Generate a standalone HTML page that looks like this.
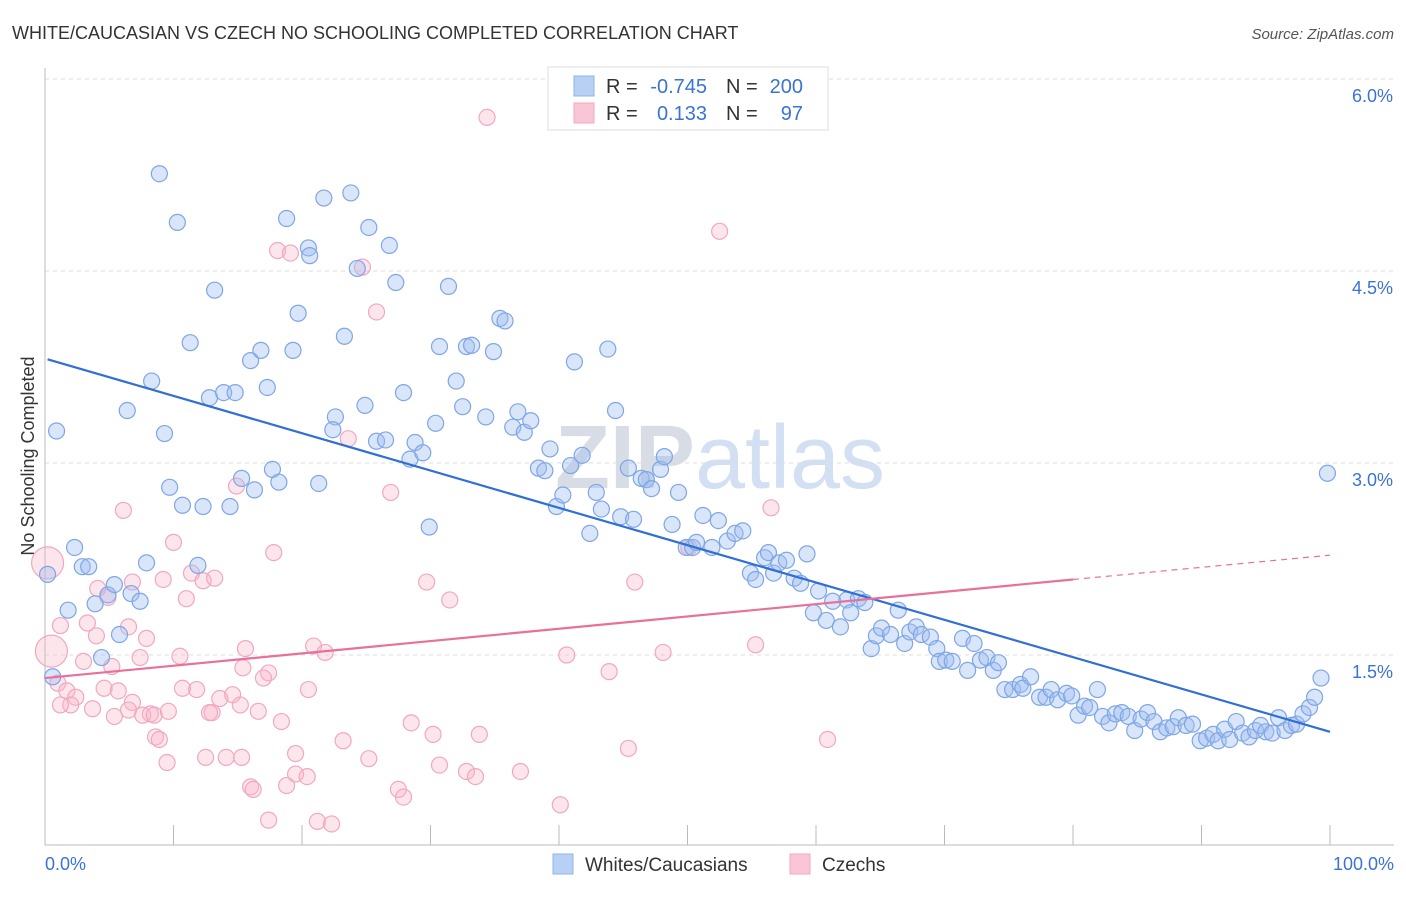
<!DOCTYPE html>
<html><head><meta charset="utf-8"><style>
body{margin:0;background:#fff;font-family:"Liberation Sans",sans-serif}
svg text{font-family:"Liberation Sans",sans-serif}
</style></head><body>
<svg id="chart" width="1406" height="892" xmlns="http://www.w3.org/2000/svg">
<text x="12" y="39" font-size="18" fill="#333">WHITE/CAUCASIAN VS CZECH NO SCHOOLING COMPLETED CORRELATION CHART</text>
<text x="1394" y="39" font-size="15" fill="#555" text-anchor="end" font-style="italic">Source: ZipAtlas.com</text>
<text x="720" y="488" font-size="90" fill="#dfe7f2" text-anchor="middle" font-family="Liberation Serif"><tspan font-weight="bold" fill="#d8dde5">ZIP</tspan><tspan fill="#d3e0f3">atlas</tspan></text>
<text transform="translate(34,456) rotate(-90)" font-size="18" fill="#333" text-anchor="middle">No Schooling Completed</text>
<g id="grid"></g><g id="axes"></g><g id="marks"></g><g id="trends"></g>
<g>
<rect x="548" y="67" width="280" height="63" fill="#fff" stroke="#ddd"/>
<rect x="574" y="76" width="20" height="20" fill="#b9d0f5" stroke="#8fb3ea"/>
<rect x="574" y="103" width="20" height="20" fill="#f9c6d5" stroke="#f0a8c0"/>
<text x="606" y="93" font-size="20" fill="#333">R =</text>
<text x="707" y="93" font-size="20" fill="#3a73d6" text-anchor="end">-0.745</text>
<text x="726" y="93" font-size="20" fill="#333">N =</text>
<text x="803" y="93" font-size="20" fill="#3a73d6" text-anchor="end">200</text>
<text x="606" y="120" font-size="20" fill="#333">R =</text>
<text x="707" y="120" font-size="20" fill="#3a73d6" text-anchor="end">0.133</text>
<text x="726" y="120" font-size="20" fill="#333">N =</text>
<text x="803" y="120" font-size="20" fill="#3a73d6" text-anchor="end">97</text>
</g>
<g>
<rect x="553" y="854" width="20" height="20" fill="#b9d0f5" stroke="#8fb3ea"/>
<text x="585" y="871" font-size="19" fill="#333">Whites/Caucasians</text>
<rect x="790" y="854" width="20" height="20" fill="#f9c6d5" stroke="#f0a8c0"/>
<text x="822" y="871" font-size="19" fill="#333">Czechs</text>
</g>
</svg>
<script>
const blueX=[8.9,10.3,13.2,11.3,8.3,6.4,9.3,0.9,12.8,13.9,14.8,16.0,16.8,17.3,19.3,19.7,18.8,20.5,20.6,21.7,23.8,25.2,24.3,26.8,27.3,31.4,23.3,22.6,22.4,24.9,25.8,26.5,27.9,28.8,28.4,29.4,30.4,30.7,32.0,32.5,32.8,33.2,34.3,34.9,35.4,35.8,36.4,36.8,37.3,37.8,39.3,38.4,38.9,39.8,40.3,40.9,41.2,41.8,42.4,42.9,43.3,43.8,44.4,44.8,45.4,45.8,46.4,46.8,47.2,47.9,48.2,48.8,49.3,49.9,50.4,50.7,51.2,51.9,52.4,53.1,53.7,54.3,54.9,55.3,56.0,56.3,56.7,57.1,57.7,58.3,58.8,59.3,59.8,60.2,60.8,61.3,61.9,62.4,62.7,63.3,63.8,64.3,64.7,65.1,65.8,66.4,66.9,67.3,67.8,68.2,68.9,69.4,69.6,70.1,70.6,71.4,71.8,72.3,72.8,73.3,73.8,74.2,74.7,75.3,75.9,76.1,76.7,77.4,77.9,78.3,78.8,79.5,79.9,80.4,80.9,81.3,81.9,82.3,82.8,83.3,83.8,84.3,84.8,85.3,85.8,86.3,86.8,87.3,87.8,88.2,88.8,89.3,89.9,90.4,90.9,91.3,91.8,92.2,92.7,93.2,93.7,94.2,94.6,95.0,95.5,96.0,96.5,97.0,97.4,97.9,98.4,98.8,99.3,99.8,0.2,0.6,1.8,2.3,2.9,3.4,3.9,4.4,4.9,5.4,5.8,6.7,7.4,7.9,9.7,10.7,11.9,12.3,14.4,15.3,16.3,17.7,18.2,21.3,29.9];
const blueY=[5.26,4.88,4.35,3.94,3.64,3.41,3.23,3.25,3.51,3.55,3.55,3.80,3.88,3.59,3.88,4.17,4.91,4.68,4.62,5.07,5.11,4.84,4.52,4.70,4.41,4.38,3.99,3.36,3.26,3.45,3.17,3.18,3.55,3.16,3.03,3.08,3.31,3.91,3.64,3.44,3.91,3.92,3.36,3.87,4.13,4.11,3.28,3.40,3.24,3.33,3.11,2.96,2.94,2.66,2.75,2.98,3.79,3.06,2.45,2.77,2.64,3.89,3.41,2.58,2.96,2.56,2.88,2.87,2.80,2.95,3.05,2.52,2.77,2.34,2.34,2.38,2.59,2.34,2.55,2.39,2.45,2.47,2.14,2.09,2.26,2.30,2.14,2.22,2.24,2.10,2.06,2.29,1.83,2.00,1.77,1.92,1.72,1.93,1.83,1.94,1.91,1.55,1.65,1.71,1.66,1.85,1.59,1.68,1.72,1.66,1.64,1.55,1.45,1.46,1.45,1.63,1.38,1.59,1.46,1.48,1.38,1.44,1.23,1.23,1.27,1.24,1.33,1.17,1.17,1.23,1.15,1.20,1.18,1.03,1.10,1.09,1.23,1.02,0.97,1.04,1.05,1.02,0.91,1.00,1.05,0.98,0.90,0.93,0.94,1.01,0.95,0.96,0.83,0.85,0.88,0.83,0.92,0.84,0.98,0.89,0.86,0.91,0.95,0.90,0.89,1.01,0.91,0.95,0.96,1.04,1.09,1.17,1.32,2.92,2.13,1.33,1.85,2.34,2.19,2.19,1.90,1.48,1.97,2.05,1.66,1.98,1.92,2.22,2.81,2.67,2.20,2.66,2.66,2.88,2.79,2.95,2.85,2.84,2.50];
const pinkX=[34.4,52.5,18.1,19.1,24.7,25.8,23.6,26.9,14.9,6.1,10.0,17.8,29.7,31.5,45.9,56.5,50.1,9.2,6.8,11.4,12.3,13.2,4.1,4.9,11.0,3.3,4.0,6.5,7.9,1.2,3.0,5.2,7.4,10.5,15.6,20.9,21.8,15.4,17.4,17.0,4.6,5.7,6.8,8.2,10.7,11.8,13.0,13.6,14.6,15.2,16.6,20.5,1.0,1.7,2.4,2.0,1.2,3.7,5.4,6.5,7.6,8.5,9.6,12.8,18.4,8.6,8.9,9.5,12.5,14.1,15.3,19.5,16.0,16.2,18.8,19.5,20.4,23.2,25.2,27.5,27.9,28.5,30.2,30.7,32.8,33.5,33.8,37.0,40.1,40.6,43.9,45.4,48.1,55.3,60.9,17.4,21.2,22.3,0.2,0.5];
const pinkY=[5.70,4.81,4.66,4.64,4.53,4.18,3.19,2.77,2.82,2.63,2.38,2.30,2.07,1.93,2.07,2.65,2.34,2.09,2.07,2.14,2.08,2.10,2.02,1.95,1.94,1.75,1.65,1.72,1.63,1.73,1.45,1.41,1.48,1.49,1.55,1.57,1.52,1.40,1.36,1.32,1.24,1.22,1.13,1.04,1.24,1.23,1.05,1.16,1.19,1.11,1.06,1.23,1.28,1.22,1.17,1.11,1.11,1.08,1.02,1.07,1.03,1.03,1.06,1.05,0.98,0.86,0.84,0.66,0.70,0.70,0.70,0.73,0.47,0.45,0.48,0.57,0.55,0.83,0.69,0.45,0.39,0.97,0.88,0.64,0.59,0.55,0.88,0.59,0.33,1.50,1.37,0.77,1.52,1.58,0.84,0.21,0.20,0.18,2.22,1.53];
const pinkR=[];for(let i=0;i<pinkX.length;i++)pinkR.push(i>=pinkX.length-2?1:0);
const blueTrendX=[0.2,100];const blueTrendY=[3.81,0.90];
const pinkTrendX=[0,80];const pinkTrendY=[1.32,2.09];
const pinkDashX=[80,100];const pinkDashY=[2.09,2.28];
const yTicks=[1.5,3.0,4.5,6.0];const yTickLabels=["1.5%","3.0%","4.5%","6.0%"];
const xTicks=[0,10,20,30,40,50,60,70,80,90,100];
const NS="http://www.w3.org/2000/svg";
const sx=v=>45+v*12.85, sy=v=>847-v*128;
function mk(t,a,p){const e=document.createElementNS(NS,t);for(const k in a)e.setAttribute(k,a[k]);document.getElementById(p).appendChild(e);return e;}
yTicks.forEach((t,i)=>{const g=mk('line',{x1:45,x2:1394,y1:sy(t),y2:sy(t),stroke:'#ddd','stroke-dasharray':'4,4'},'grid');


const l=mk('text',{x:1393,y:sy(t)+23,'font-size':18,fill:'#3a73d6','text-anchor':'end'},'axes');l.textContent=yTickLabels[i];

});
const ax=mk('line',{x1:45,x2:45,y1:68,y2:845,stroke:'#bbb'},'axes');


const bx=mk('line',{x1:45,x2:1394,y1:845,y2:845,stroke:'#bbb'},'axes');


xTicks.forEach(t=>{const e=mk('line',{x1:sx(t),x2:sx(t),y1:825,y2:845,stroke:'#bbb'},'axes');

});
const x0=mk('text',{x:45,y:870,'font-size':18,fill:'#3a73d6'},'axes');x0.textContent='0.0%';


const x1=mk('text',{x:1394,y:870,'font-size':18,fill:'#3a73d6','text-anchor':'end'},'axes');x1.textContent='100.0%';


pinkX.forEach((v,i)=>{const c=mk('circle',{cx:sx(v),cy:sy(pinkY[i]),r:pinkR[i]?16:8,fill:'rgba(248,180,200,0.35)',stroke:'#f0a8c0','stroke-width':1.2},'marks');

});
blueX.forEach((v,i)=>{const c=mk('circle',{cx:sx(v),cy:sy(blueY[i]),r:8,fill:'rgba(160,190,240,0.4)',stroke:'#7ea6e6','stroke-width':1.2},'marks');

});
const bt=mk('line',{x1:sx(blueTrendX[0]),y1:sy(blueTrendY[0]),x2:sx(blueTrendX[1]),y2:sy(blueTrendY[1]),stroke:'#2f6fd6','stroke-width':2.2},'trends');


const pt=mk('line',{x1:sx(pinkTrendX[0]),y1:sy(pinkTrendY[0]),x2:sx(pinkTrendX[1]),y2:sy(pinkTrendY[1]),stroke:'#e8709a','stroke-width':2.2},'trends');


const pd=mk('line',{x1:sx(pinkDashX[0]),y1:sy(pinkDashY[0]),x2:sx(pinkDashX[1]),y2:sy(pinkDashY[1]),stroke:'#e8709a','stroke-width':1.2,'stroke-dasharray':'6,5'},'trends');


</script>
</body></html>
